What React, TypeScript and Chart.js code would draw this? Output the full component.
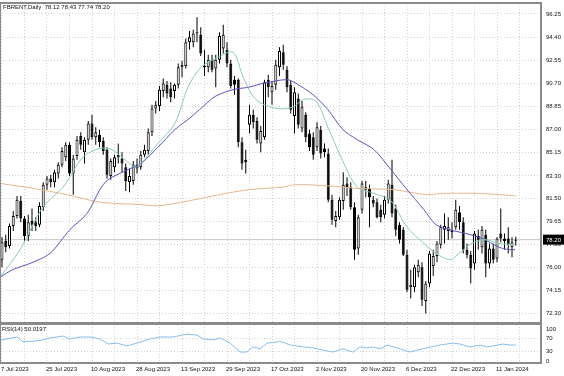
import React, { useEffect, useRef } from 'react';
import { Chart, registerables } from 'chart.js';

Chart.register(...registerables);

// ---------------- data ----------------
const symbolTitle = 'FBRENT,Daily  78.12 78.43 77.74 78.20';
const rsiTitle = 'RSI(14) 50.0197';
const lastPrice = 78.2;

const tickLabels = [
  '7 Jul 2023', '25 Jul 2023', '10 Aug 2023', '28 Aug 2023', '13 Sep 2023', '29 Sep 2023',
  '17 Oct 2023', '2 Nov 2023', '20 Nov 2023', '6 Dec 2023', '22 Dec 2023', '11 Jan 2024',
];
const priceTicks = [96.25, 94.4, 92.55, 90.7, 88.85, 87.0, 85.15, 83.3, 81.5, 79.65, 77.8, 76.0, 74.15, 72.3];
const rsiTicks = [0, 30, 70, 100];

const opens = [
  76.6, 78.1, 77.7, 79.3, 80.1, 81.3, 79.9, 78.5, 79.7, 79.6,
  79.4, 80.8, 82.6, 83.1, 82.8, 83.5, 84.2, 84.8, 85.8, 83.5,
  84.9, 86.5, 85.2, 86.2, 87.5, 86.4, 86.6, 86.1, 85.4, 83.3,
  84.0, 84.8, 84.7, 84.0, 82.8, 82.9, 84.2, 84.0, 85.0, 85.3,
  86.8, 88.7, 88.9, 90.1, 90.6, 90.3, 90.1, 90.6, 92.0, 92.1,
  94.0, 94.0, 94.7, 94.6, 92.0, 92.0, 92.6, 91.9, 92.6, 93.5,
  93.4, 92.3, 91.0, 91.0, 86.0, 84.6, 87.4, 88.2, 87.7, 85.9,
  86.4, 91.0, 90.0, 90.6, 92.0, 93.2, 91.8, 90.6, 88.1, 89.5,
  87.1, 88.2, 86.7, 86.4, 85.6, 87.0, 85.5, 85.1, 81.4, 79.7,
  80.0, 81.3, 82.7, 82.4, 80.8, 77.5, 80.6, 82.2, 82.3, 81.4,
  81.2, 80.6, 80.2, 81.4, 82.6, 80.7, 79.4, 79.0, 77.0, 74.4,
  74.4, 75.6, 76.0, 73.3, 74.7, 76.1, 76.9, 77.8, 79.0, 78.9,
  79.0, 79.2, 80.4, 79.6, 77.4, 77.0, 76.3, 78.5, 77.6, 78.6,
  76.3, 77.5, 76.7, 78.7, 78.3, 78.3, 77.6, 78.12,
];
const highs = [
  78.4, 78.6, 79.5, 80.5, 81.7, 81.7, 80.1, 80.2, 80.7, 80.0,
  81.2, 82.8, 83.3, 83.4, 83.8, 84.4, 85.6, 86.0, 86.0, 85.0,
  86.5, 86.8, 86.4, 87.7, 88.2, 87.2, 87.0, 86.4, 85.6, 84.7,
  85.0, 85.9, 85.2, 84.3, 83.9, 84.5, 84.7, 85.3, 85.8, 87.1,
  89.0, 89.3, 90.5, 91.1, 90.9, 90.8, 90.7, 92.3, 92.5, 94.3,
  94.9, 95.0, 96.0, 95.2, 93.4, 93.0, 93.0, 93.0, 94.8, 95.4,
  94.0, 92.6, 91.3, 91.1, 86.4, 85.4, 89.0, 88.6, 88.0, 87.3,
  91.0, 91.4, 90.9, 92.6, 93.6, 93.8, 92.1, 90.9, 90.4, 89.9,
  89.3, 88.4, 87.0, 86.8, 87.6, 87.3, 85.9, 85.5, 81.8, 80.5,
  81.6, 83.6, 83.2, 82.8, 81.2, 80.2, 82.9, 82.9, 82.6, 81.7,
  81.5, 81.0, 81.7, 83.0, 84.6, 81.0, 79.6, 79.2, 77.4, 75.8,
  76.2, 76.6, 76.4, 74.9, 77.3, 77.4, 78.1, 79.4, 80.3, 80.0,
  79.6, 81.4, 80.9, 80.0, 77.9, 77.3, 78.9, 79.0, 79.3, 79.0,
  77.9, 77.9, 78.4, 80.7, 78.7, 79.2, 78.4, 78.43,
];
const lows = [
  76.0, 77.2, 77.5, 78.9, 79.9, 79.6, 78.0, 78.1, 78.9, 78.9,
  79.2, 80.5, 82.2, 82.4, 82.4, 83.1, 84.0, 84.5, 83.3, 81.8,
  84.6, 85.4, 84.3, 85.8, 86.2, 85.8, 85.6, 85.0, 83.1, 83.0,
  83.6, 84.3, 83.6, 82.1, 82.0, 82.6, 83.5, 83.8, 84.8, 85.0,
  86.5, 88.3, 88.5, 89.6, 89.5, 89.2, 89.5, 90.3, 91.2, 91.9,
  93.4, 93.6, 94.0, 92.9, 91.3, 91.6, 91.6, 90.4, 92.3, 93.1,
  92.0, 90.3, 89.8, 85.6, 83.8, 83.5, 86.7, 87.1, 85.9, 85.2,
  86.2, 89.6, 89.0, 90.2, 91.3, 91.8, 90.0, 88.3, 86.7, 87.1,
  86.8, 86.0, 85.3, 84.6, 85.3, 84.7, 84.8, 81.2, 79.4, 79.2,
  79.8, 80.6, 81.7, 80.6, 76.6, 77.0, 80.3, 81.6, 79.2, 80.8,
  79.9, 79.6, 79.9, 81.1, 80.0, 78.5, 77.9, 76.9, 74.0, 73.5,
  74.0, 75.2, 72.9, 72.3, 74.4, 75.3, 76.4, 77.5, 77.9, 78.2,
  78.3, 79.0, 79.0, 77.1, 76.7, 74.7, 75.8, 77.4, 77.1, 75.2,
  75.9, 76.3, 76.4, 78.0, 77.4, 77.1, 76.8, 77.74,
];
const closes = [
  78.0, 77.6, 79.3, 80.1, 81.4, 79.9, 78.5, 79.6, 79.4, 79.3,
  80.9, 82.6, 83.1, 82.8, 83.6, 84.2, 85.3, 85.8, 83.5, 84.7,
  86.2, 85.8, 86.2, 87.5, 86.4, 86.8, 86.0, 85.3, 83.4, 84.5,
  84.8, 85.0, 84.3, 82.9, 83.3, 84.2, 83.9, 85.0, 85.4, 86.8,
  88.7, 89.0, 90.2, 90.7, 89.9, 89.6, 90.6, 92.0, 92.2, 94.0,
  94.4, 94.7, 94.8, 93.1, 92.1, 92.6, 91.8, 92.6, 94.5, 94.6,
  92.3, 90.5, 90.6, 86.0, 84.3, 84.4, 88.2, 87.6, 86.2, 86.9,
  90.8, 90.4, 90.5, 92.2, 93.3, 92.2, 90.4, 88.6, 90.0, 87.4,
  88.8, 86.4, 85.6, 85.0, 87.2, 85.1, 85.2, 81.4, 79.8, 80.1,
  81.4, 82.6, 82.4, 80.8, 77.4, 80.0, 82.7, 82.4, 81.6, 81.1,
  80.0, 80.0, 81.4, 82.7, 80.3, 79.0, 78.2, 77.0, 74.2, 74.6,
  76.0, 76.2, 73.4, 74.7, 77.1, 76.9, 77.9, 79.2, 79.3, 79.2,
  78.8, 80.6, 79.6, 77.4, 77.0, 75.9, 78.7, 78.2, 79.0, 76.3,
  77.5, 76.6, 78.3, 78.3, 78.1, 77.8, 78.0, 78.2,
];

// moving averages: [bar index, value]
const maFast = [
  [-0.5, 75.2], [4.8, 77.4], [10.9, 80.8], [16.3, 82.4], [21.6, 84.8], [26.1, 85.5], [29.3, 85.4],
  [35.5, 84.0], [37.1, 84.3], [41.6, 85.9], [46.1, 87.5], [49.6, 90.4], [53.1, 92.0], [57.1, 92.7],
  [61.6, 93.2], [64.3, 91.2], [67.7, 89.4], [73.1, 88.7], [77.6, 88.8], [80.3, 89.4], [83.7, 89.3],
  [86.9, 87.2], [90.4, 84.8], [94.7, 82.4], [99.2, 81.9], [103.7, 81.3], [108, 79.2], [112.5, 77.9],
  [115.7, 77.1], [119.5, 76.6], [121.9, 77.1], [125.3, 77.9], [128.8, 78.2], [132.5, 77.9], [136.8, 77.8],
];
const maMid = [
  [-0.5, 75.2], [2.9, 75.8], [7.5, 76.3], [12.8, 77.1], [18.1, 79.0], [22.7, 80.3], [26.1, 82.2],
  [28.3, 83.0], [33.6, 83.8], [37.1, 84.3], [41.6, 85.6], [46.1, 87.0], [50.4, 88.0], [54.9, 89.2],
  [57.1, 89.7], [61.6, 90.2], [65.9, 90.4], [69.6, 90.7], [76, 91.0], [78.4, 90.7], [82.9, 89.8],
  [86.9, 88.6], [90.9, 87.0], [94.7, 86.2], [99.2, 85.4], [103.7, 83.8], [108, 82.2], [112.5, 80.6],
  [115.7, 79.4], [119.2, 79.0], [123.5, 78.7], [128, 78.3], [132.5, 77.6], [135.2, 77.4], [136.8, 77.4],
];
const maSlow = [
  [-0.5, 82.7], [8.3, 82.3], [17.3, 81.8], [26.1, 81.2], [37.1, 81.0], [41.6, 80.9], [46.1, 81.1],
  [51.5, 81.4], [58.1, 81.8], [65.9, 82.2], [74.9, 82.4], [78.4, 82.6], [86.9, 82.5], [94.7, 82.3],
  [104.3, 82.2], [113.3, 81.8], [117.6, 81.9], [126.7, 81.9], [132.5, 81.8], [137, 81.7],
];
const rsi14 = [
  [-0.5, 65], [2.1, 71], [4, 75], [5.6, 60], [8.3, 62], [10.9, 66], [12.8, 72], [16.3, 78], [18.1, 69],
  [20.8, 75], [23.5, 75], [26.1, 69], [28.3, 53], [30.7, 56], [33.3, 47], [36, 56], [39.5, 69],
  [42.1, 75], [45.6, 75], [49.3, 84], [52, 81], [53.6, 69], [56.3, 66], [58.1, 72], [60.8, 56],
  [63.5, 28], [65.3, 28], [66.9, 44], [68.8, 38], [70.7, 56], [73.3, 59], [74.1, 62], [76.8, 50],
  [78.7, 47], [80.3, 44], [82.9, 41], [85.6, 34], [88.3, 28], [90.9, 38], [93.6, 28], [95.5, 44],
  [97.3, 41], [98.9, 44], [100.8, 38], [102.7, 50], [105.3, 41], [108.8, 28], [110.7, 34], [113.3, 41],
  [116.8, 50], [120.3, 56], [122.1, 53], [124.8, 44], [127.5, 50], [129.3, 44], [130.9, 47],
  [133.6, 53], [135.5, 50], [137, 50],
];

// ---------------- layout constants ----------------
const AXIS_W = 23;
const X_MIN = -0.5333;
const X_MAX = 143.733;
const P_MIN = 71.53;
const P_MAX = 97.13;
const R_MIN = -6.25;
const R_MAX = 115.625;
const FONT = "'Liberation Sans', Arial, sans-serif";
const TXT = '#111111';
const GRID = '#d2d2d2';
const FRAME = '#8a8a8a';

const gridTicks = (s: any) => {
  const t: any[] = [];
  for (let v = 0; v <= 138; v += 6) t.push({ value: v });
  s.ticks = t;
};
const zeroPad = (s: any) => {
  s.paddingTop = 0; s.paddingBottom = 0; s.paddingLeft = 0; s.paddingRight = 0;
};

const framePlugin = (extra: (c: any) => void) => ({
  id: 'frameAndText',
  afterDraw(chart: any) {
    const { ctx, chartArea: a } = chart;
    ctx.save();
    ctx.strokeStyle = FRAME;
    ctx.lineWidth = 2;
    ctx.strokeRect(a.left, a.top, a.right - a.left, a.bottom - a.top);
    ctx.restore();
    extra(chart);
  },
});

export default function App() {
  const mainRef = useRef<HTMLCanvasElement>(null);
  const rsiRef = useRef<HTMLCanvasElement>(null);

  useEffect(() => {
    Chart.defaults.font.family = FONT;
    const bodies = closes.map((c, i) => ({ x: i, y: [opens[i], c] }));
    const bodyColors = closes.map((c, i) => (c >= opens[i] ? '#ffffff' : '#000000'));
    const wicks = closes.map((_, i) => ({ x: i, y: [lows[i], highs[i]] }));
    const toXY = (arr: number[][]) => arr.map(([x, y]) => ({ x, y }));

    const main = new Chart(mainRef.current as HTMLCanvasElement, {
      type: 'bar',
      data: {
        datasets: [
          { type: 'line', data: [{ x: X_MIN, y: lastPrice }, { x: X_MAX, y: lastPrice }], borderColor: '#c8c8c8', borderWidth: 1, pointRadius: 0, order: 6 } as any,
          { type: 'bar', data: wicks, backgroundColor: '#000000', borderWidth: 0, grouped: false, barThickness: 1, maxBarThickness: 1, barPercentage: 1, categoryPercentage: 1, inflateAmount: 0, order: 5 } as any,
          { type: 'bar', data: bodies, backgroundColor: bodyColors, borderColor: '#000000', borderWidth: 1, borderSkipped: false, grouped: false, barThickness: 3, maxBarThickness: 3, barPercentage: 1, categoryPercentage: 1, minBarLength: 1, inflateAmount: 0, order: 4 } as any,
          { type: 'line', data: toXY(maSlow), borderColor: '#e4b88e', borderWidth: 1, pointRadius: 0, tension: 0.3, order: 3 } as any,
          { type: 'line', data: toXY(maMid), borderColor: '#5a52c8', borderWidth: 1, pointRadius: 0, tension: 0.3, order: 2 } as any,
          { type: 'line', data: toXY(maFast), borderColor: '#86cdb6', borderWidth: 1, pointRadius: 0, tension: 0.3, order: 1 } as any,
        ],
      },
      options: {
        animation: false,
        responsive: false,
        events: [],
        layout: { padding: { top: 3, bottom: 1, left: 0, right: 0 } },
        plugins: { legend: { display: false }, tooltip: { enabled: false } },
        scales: {
          x: {
            type: 'linear', min: X_MIN, max: X_MAX, offset: false, bounds: 'data',
            grid: { offset: false, color: GRID, drawTicks: false },
            border: { display: false, dash: [1, 2] },
            ticks: { display: false },
            afterBuildTicks: gridTicks,
            afterFit: (s: any) => { s.height = 0; zeroPad(s); },
          },
          y: {
            type: 'linear', position: 'right', min: P_MIN, max: P_MAX, bounds: 'data',
            grid: { color: GRID, drawTicks: false },
            border: { display: false, dash: [1, 2] },
            afterBuildTicks: (s: any) => { s.ticks = priceTicks.map((v) => ({ value: v })); },
            afterFit: (s: any) => { s.width = AXIS_W; zeroPad(s); },
            ticks: { autoSkip: false, padding: 5, color: TXT, font: { size: 6, family: FONT }, callback: (v: any) => Number(v).toFixed(2) },
          },
        },
      } as any,
      plugins: [framePlugin((chart: any) => {
        const { ctx, chartArea: a, scales } = chart;
        ctx.save();
        ctx.font = `6px ${FONT}`;
        ctx.fillStyle = TXT;
        ctx.textBaseline = 'middle';
        ctx.textAlign = 'left';
        ctx.fillText(symbolTitle, 3, 7);
        const y = scales.y.getPixelForValue(lastPrice);
        ctx.fillStyle = '#000000';
        ctx.fillRect(a.right + 2, y - 5, 21, 10);
        ctx.fillStyle = '#ffffff';
        ctx.fillText(lastPrice.toFixed(2), a.right + 5, y + 0.5);
        ctx.restore();
      })],
    });

    const rsi = new Chart(rsiRef.current as HTMLCanvasElement, {
      type: 'line',
      data: {
        datasets: [
          { data: toXY(rsi14), borderColor: '#86bdf0', borderWidth: 1, pointRadius: 0, tension: 0 },
        ],
      },
      options: {
        animation: false,
        responsive: false,
        events: [],
        layout: { padding: 0 },
        plugins: { legend: { display: false }, tooltip: { enabled: false } },
        scales: {
          x: {
            type: 'linear', min: X_MIN, max: X_MAX, offset: false, bounds: 'data',
            grid: { offset: false, color: GRID, drawTicks: false },
            border: { display: false, dash: [1, 2] },
            afterBuildTicks: gridTicks,
            afterFit: (s: any) => { s.height = 13; zeroPad(s); },
            ticks: {
              autoSkip: false, maxRotation: 0, minRotation: 0, align: 'start', padding: 3, labelOffset: -1,
              color: TXT, font: { size: 6, family: FONT },
              callback: (v: any) => (Number(v) % 12 === 0 ? tickLabels[Number(v) / 12] ?? '' : ''),
            },
          },
          y: {
            type: 'linear', position: 'right', min: R_MIN, max: R_MAX, bounds: 'data',
            grid: { color: (c: any) => (c.tick && (c.tick.value === 30 || c.tick.value === 70) ? GRID : 'rgba(0,0,0,0)'), drawTicks: false },
            border: { display: false, dash: [1, 2] },
            afterBuildTicks: (s: any) => { s.ticks = rsiTicks.map((v) => ({ value: v })); },
            afterFit: (s: any) => { s.width = AXIS_W; zeroPad(s); },
            ticks: { autoSkip: false, padding: 5, color: TXT, font: { size: 6, family: FONT }, callback: (v: any) => String(v) },
          },
        },
      } as any,
      plugins: [framePlugin((chart: any) => {
        const { ctx, chartArea: a } = chart;
        ctx.save();
        ctx.font = `6px ${FONT}`;
        ctx.fillStyle = TXT;
        ctx.textBaseline = 'middle';
        ctx.textAlign = 'left';
        ctx.fillText(rsiTitle, a.left + 2, a.top + 5);
        ctx.restore();
      })],
    });

    return () => { main.destroy(); rsi.destroy(); };
  }, []);

  return (
    <div style={{ position: 'fixed', left: 0, top: 0, width: 564, height: 376, background: '#ffffff', overflow: 'hidden' }}>
      <canvas ref={mainRef} width={564} height={324} style={{ position: 'absolute', left: 0, top: 0, width: 564, height: 324 }} />
      <canvas ref={rsiRef} width={564} height={52} style={{ position: 'absolute', left: 0, top: 324, width: 564, height: 52 }} />
    </div>
  );
}
